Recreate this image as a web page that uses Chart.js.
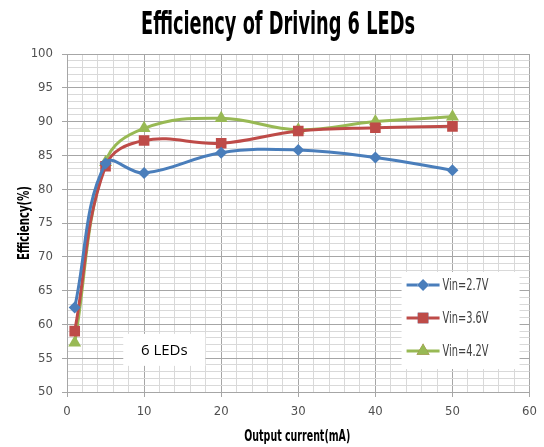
<!DOCTYPE html>
<html>
<head>
<meta charset="utf-8">
<script src="https://cdn.jsdelivr.net/npm/chart.js@4/dist/chart.umd.min.js"></script>
<style>
html,body{margin:0;padding:0;background:#fff;}
#wrap{width:544px;height:447px;}
</style>
</head>
<body>
<div id="wrap"><canvas id="c" width="544" height="447"></canvas></div>
<script>
const currents = [1, 5, 10, 20, 30, 40, 50];
const vin27 = [62.5, 83.8, 82.4, 85.4, 85.8, 84.7, 82.8];
const vin36 = [59.0, 83.4, 87.2, 86.8, 88.6, 89.1, 89.3];
const vin42 = [57.3, 84.0, 89.0, 90.5, 88.8, 90.0, 90.7];
const seriesNames = ['Vin=2.7V', 'Vin=3.6V', 'Vin=4.2V'];
const xTickLabels = [0, 10, 20, 30, 40, 50, 60];
const yTickLabels = [50, 55, 60, 65, 70, 75, 80, 85, 90, 95, 100];
const chartTitle = 'Efficiency of Driving 6 LEDs';
const xTitle = 'Output current(mA)';
const yTitle = 'Efficiency(%)';
const noteText = '6 LEDs';

const colors = ['#4A7EBB', '#BE4B48', '#98B954'];
const styles = ['rectRot', 'rect', 'triangle'];
const radii = [6, 7.5, 7.5];
const values = [vin27, vin36, vin42];

const datasets = values.map((vals, i) => ({
  label: seriesNames[i],
  data: currents.map((x, j) => ({x: x, y: vals[j]})),
  borderColor: colors[i],
  backgroundColor: colors[i],
  borderWidth: 3,
  pointStyle: styles[i],
  pointRadius: radii[i],
  pointBorderWidth: 0,
  tension: 0.4,
  fill: false
}));

const condensed = "'DejaVu Sans Condensed', 'Liberation Sans Narrow', sans-serif";

// draw text horizontally squeezed to a target width (still real text)
function squeezedText(ctx, text, font, cx, cy, targetW, color, rot) {
  ctx.save();
  ctx.font = font;
  const w = ctx.measureText(text).width;
  const sx = Math.min(1, targetW / w);
  ctx.translate(cx, cy);
  if (rot) ctx.rotate(rot);
  ctx.scale(sx, 1);
  ctx.fillStyle = color;
  ctx.textAlign = 'center';
  ctx.textBaseline = 'middle';
  ctx.fillText(text, 0, 0);
  ctx.restore();
}

const overlayPlugin = {
  id: 'overlay',
  afterDraw(chart) {
    const ctx = chart.ctx;
    const ca = chart.chartArea;
    // titles
    squeezedText(ctx, chartTitle, "bold 32px " + condensed, 278, 26, 274, '#000000');
    squeezedText(ctx, xTitle, "bold 15px " + condensed, (ca.left + ca.right) / 2 - 1, 437, 106, '#000000');
    squeezedText(ctx, yTitle, "bold 15px " + condensed, 25, (ca.top + ca.bottom) / 2, 74, '#000000', -Math.PI / 2);
  },
  afterDatasetsDraw(chart) {
    const ctx = chart.ctx;
    const ca = chart.chartArea;
    const xs = chart.scales.x, ys = chart.scales.y;
    ctx.save();
    // "6 LEDs" label box
    const bx = xs.getPixelForValue(7.3), by = ys.getPixelForValue(58.6);
    const bw = 82, bh = 32;
    ctx.fillStyle = '#ffffff';
    ctx.fillRect(bx, by, bw, bh);
    ctx.fillStyle = '#000000';
    ctx.font = "15px 'Open Sans', 'Liberation Sans', sans-serif";
    ctx.textAlign = 'center';
    ctx.textBaseline = 'middle';
    ctx.fillText(noteText, bx + bw / 2, by + bh / 2 + 1);

    // legend box
    const lx = ca.right - 128, ly = ca.top + 218;
    const lw = 118, lh = 97;
    ctx.fillStyle = '#ffffff';
    ctx.fillRect(lx, ly, lw, lh);
    chart.data.datasets.forEach((ds, i) => {
      const yy = ly + 13 + i * 33;
      ctx.strokeStyle = ds.borderColor;
      ctx.lineWidth = 3;
      ctx.beginPath();
      ctx.moveTo(lx + 5, yy);
      ctx.lineTo(lx + 38, yy);
      ctx.stroke();
      Chart.helpers.drawPoint(ctx, {pointStyle: ds.pointStyle, radius: ds.pointRadius, borderWidth: 0, rotation: 0}, lx + 21.5, yy);
      ctx.fillStyle = ds.backgroundColor;
      ctx.fill();
      ctx.save();
      ctx.font = "15px " + condensed;
      const w = ctx.measureText(ds.label).width;
      ctx.translate(lx + 41, yy + 1);
      ctx.scale(46 / w, 1);
      ctx.fillStyle = '#404040';
      ctx.textAlign = 'left';
      ctx.textBaseline = 'middle';
      ctx.fillText(ds.label, 0, 0);
      ctx.restore();
    });
    ctx.restore();
  }
};

new Chart(document.getElementById('c'), {
  type: 'line',
  data: { datasets: datasets },
  plugins: [overlayPlugin],
  options: {
    responsive: false,
    animation: false,
    devicePixelRatio: 1,
    layout: { padding: { left: 0, right: 14, bottom: 0, top: 54 } },
    plugins: {
      legend: { display: false },
      tooltip: { enabled: false },
      title: { display: false, text: chartTitle }
    },
    scales: {
      x: {
        type: 'linear',
        min: xTickLabels[0],
        max: xTickLabels[xTickLabels.length - 1],
        afterFit(s) { s.height = 55; },
        ticks: {
          stepSize: 2,
          autoSkip: false,
          maxRotation: 0,
          padding: 7,
          color: '#505050',
          font: { family: condensed, size: 13 },
          callback: v => xTickLabels.includes(v) ? String(v) : ''
        },
        grid: {
          color: c => (c.tick && c.tick.value % 10 === 0) ? '#a6a6a6' : '#d9d9d9',
          tickColor: c => (c.tick && c.tick.value % 10 === 0) ? '#a6a6a6' : 'rgba(0,0,0,0)',
          tickLength: 5,
          lineWidth: 1
        },
        border: { color: '#a6a6a6' },
        title: { display: false, text: xTitle }
      },
      y: {
        type: 'linear',
        min: yTickLabels[0],
        max: yTickLabels[yTickLabels.length - 1],
        afterFit(s) { s.width = 67; },
        ticks: {
          stepSize: 1,
          autoSkip: false,
          padding: 9,
          color: '#505050',
          font: { family: condensed, size: 13 },
          callback: v => yTickLabels.includes(v) ? String(v) : ''
        },
        grid: {
          color: c => (c.tick && c.tick.value % 5 === 0) ? '#a6a6a6' : '#d9d9d9',
          tickColor: c => (c.tick && c.tick.value % 5 === 0) ? '#a6a6a6' : 'rgba(0,0,0,0)',
          tickLength: 5,
          lineWidth: 1
        },
        border: { color: '#a6a6a6' },
        title: { display: false, text: yTitle }
      }
    }
  }
});
</script>
</body>
</html>
